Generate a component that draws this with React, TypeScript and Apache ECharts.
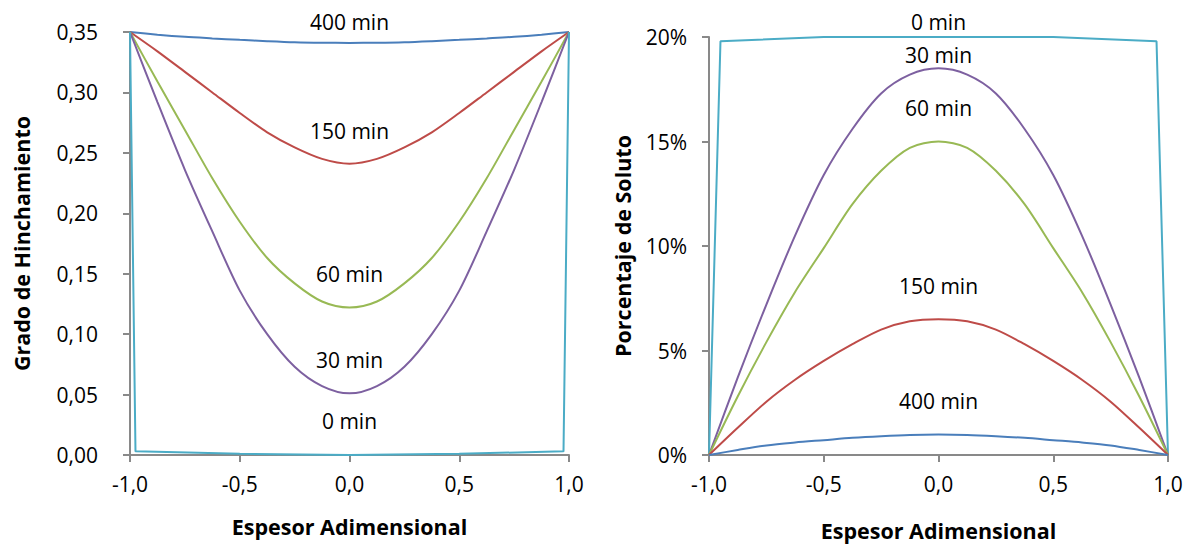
import React, { useEffect, useRef } from "react";
import * as echarts from "echarts";

// Dimensionless thickness positions (shared by the profiles)
const espesor = [
  -1, -0.875, -0.75, -0.625, -0.5, -0.375, -0.25, -0.125, 0,
  0.125, 0.25, 0.375, 0.5, 0.625, 0.75, 0.875, 1,
];

// Swelling degree profiles
const hinch400 = [
  0.35, 0.3478, 0.346, 0.3447, 0.3435, 0.3424, 0.3415, 0.3411, 0.341,
  0.3411, 0.3415, 0.3424, 0.3435, 0.3447, 0.346, 0.3478, 0.35,
];
const hinch150 = [
  0.35, 0.334, 0.317, 0.3, 0.283, 0.267, 0.2545, 0.245, 0.241,
  0.245, 0.2545, 0.267, 0.283, 0.3, 0.317, 0.334, 0.35,
];
const hinch60 = [
  0.35, 0.309, 0.269, 0.229, 0.193, 0.163, 0.142, 0.127, 0.122,
  0.127, 0.142, 0.163, 0.193, 0.229, 0.269, 0.309, 0.35,
];
const hinch30 = [
  0.35, 0.292, 0.236, 0.185, 0.136, 0.1, 0.073, 0.057, 0.051,
  0.057, 0.073, 0.1, 0.136, 0.185, 0.236, 0.292, 0.35,
];
const espesorHinch0 = [-1, -0.975, -0.5, 0, 0.5, 0.975, 1];
const hinch0 = [0.35, 0.003, 0.001, 0, 0.001, 0.003, 0.35];

// Solute percentage profiles (%)
const soluto30 = [
  0, 3.7, 7.2, 10.5, 13.4, 15.6, 17.3, 18.2, 18.5,
  18.2, 17.3, 15.6, 13.4, 10.5, 7.2, 3.7, 0,
];
const soluto60 = [
  0, 2.8, 5.4, 7.8, 9.9, 12.0, 13.6, 14.7, 15.0,
  14.7, 13.6, 12.0, 9.9, 7.8, 5.4, 2.8, 0,
];
const soluto150 = [
  0, 1.3, 2.55, 3.6, 4.5, 5.3, 6.0, 6.4, 6.5,
  6.4, 6.0, 5.3, 4.5, 3.6, 2.55, 1.3, 0,
];
const soluto400 = [
  0, 0.24, 0.46, 0.6, 0.71, 0.82, 0.9, 0.96, 0.98,
  0.96, 0.9, 0.82, 0.71, 0.6, 0.46, 0.24, 0,
];
const espesorSoluto0 = [-1, -0.95, -0.5, 0, 0.5, 0.95, 1];
const soluto0 = [0, 19.8, 20, 20, 20, 19.8, 0];

// Curve labels: [x, y, text]
const hinchLabels: [number, number, string][] = [
  [0, 0.358, "400 min"],
  [0, 0.268, "150 min"],
  [0, 0.15, "60 min"],
  [0, 0.0786, "30 min"],
  [0, 0.028, "0 min"],
];
const solutoLabels: [number, number, string][] = [
  [0, 20.72, "0 min"],
  [0, 19.14, "30 min"],
  [0, 16.61, "60 min"],
  [0, 8.07, "150 min"],
  [0, 2.58, "400 min"],
];

const COLORS = {
  m0: "#4BACC6",
  m30: "#7D60A0",
  m60: "#98B954",
  m150: "#BE4B48",
  m400: "#4A7EBB",
};

const FONT = "'Open Sans', 'Noto Sans', sans-serif";
const AXIS_GRAY = "#898989";
const LABEL_SIZE = 21;
const TITLE_SIZE = 21.5;

const pairs = (xs: number[], ys: number[]) => xs.map((x, i) => [x, ys[i]]);

function lineSeries(name: string, color: string, data: number[][], idx: number, smooth: boolean) {
  return {
    name,
    type: "line",
    xAxisIndex: idx,
    yAxisIndex: idx,
    data,
    smooth: smooth ? 0.3 : false,
    showSymbol: false,
    symbol: "none",
    lineStyle: { color, width: 2 },
    itemStyle: { color },
    z: 3,
  };
}

function xAxisCfg(gridIndex: number, nameGap: number) {
  return {
    type: "value",
    gridIndex,
    min: -1,
    max: 1,
    interval: 0.5,
    name: "Espesor Adimensional",
    nameLocation: "middle",
    nameGap,
    nameTextStyle: { fontFamily: FONT, fontWeight: "bold", fontSize: TITLE_SIZE, color: "#000" },
    axisLine: { show: true, onZero: false, lineStyle: { color: AXIS_GRAY, width: 2 } },
    axisTick: { show: true, inside: false, length: 7, lineStyle: { color: AXIS_GRAY, width: 2 } },
    axisLabel: {
      fontFamily: FONT,
      fontSize: LABEL_SIZE,
      color: "#000",
      margin: 18,
      formatter: (v: number) => v.toFixed(1).replace(".", ","),
    },
    splitLine: { show: false },
  };
}

function yAxisCfg(
  gridIndex: number,
  max: number,
  interval: number,
  name: string,
  nameGap: number,
  margin: number,
  formatter: (v: number) => string
) {
  return {
    type: "value",
    gridIndex,
    min: 0,
    max,
    interval,
    name,
    nameLocation: "middle",
    nameGap,
    nameTextStyle: { fontFamily: FONT, fontWeight: "bold", fontSize: TITLE_SIZE, color: "#000" },
    axisLine: { show: true, onZero: false, lineStyle: { color: AXIS_GRAY, width: 2 } },
    axisTick: { show: true, length: 7, lineStyle: { color: AXIS_GRAY, width: 2 } },
    axisLabel: { fontFamily: FONT, fontSize: LABEL_SIZE, color: "#000", margin, formatter },
    splitLine: { show: false },
  };
}

export default function App() {
  const ref = useRef<HTMLDivElement>(null);

  useEffect(() => {
    if (!ref.current) return;
    const chart = echarts.init(ref.current, undefined, { renderer: "svg" });

    chart.setOption({
      animation: false,
      backgroundColor: "#fff",
      grid: [
        { left: 130, top: 32, width: 439, height: 423 },
        { left: 709, top: 37, width: 459, height: 419 },
      ],
      xAxis: [xAxisCfg(0, 60), xAxisCfg(1, 64)],
      yAxis: [
        yAxisCfg(0, 0.35, 0.05, "Grado de Hinchamiento", 98, 32, (v) => v.toFixed(2).replace(".", ",")),
        yAxisCfg(1, 20, 5, "Porcentaje de Soluto", 76, 22, (v) => `${v}%`),
      ],
      series: [
        lineSeries("400 min", COLORS.m400, pairs(espesor, hinch400), 0, true),
        lineSeries("150 min", COLORS.m150, pairs(espesor, hinch150), 0, true),
        lineSeries("60 min", COLORS.m60, pairs(espesor, hinch60), 0, true),
        lineSeries("30 min", COLORS.m30, pairs(espesor, hinch30), 0, true),
        lineSeries("0 min", COLORS.m0, pairs(espesorHinch0, hinch0), 0, false),
        lineSeries("0 min", COLORS.m0, pairs(espesorSoluto0, soluto0), 1, false),
        lineSeries("30 min", COLORS.m30, pairs(espesor, soluto30), 1, true),
        lineSeries("60 min", COLORS.m60, pairs(espesor, soluto60), 1, true),
        lineSeries("150 min", COLORS.m150, pairs(espesor, soluto150), 1, true),
        lineSeries("400 min", COLORS.m400, pairs(espesor, soluto400), 1, true),
      ],
    });

    // Curve labels anchored at data coordinates
    const makeLabels = (labels: [number, number, string][], gridIndex: number) =>
      labels.map(([x, y, text]) => {
        const p = chart.convertToPixel({ gridIndex }, [x, y]) as number[];
        return {
          type: "text",
          x: p[0],
          y: p[1],
          z: 10,
          style: {
            text,
            fontFamily: FONT,
            fontSize: LABEL_SIZE,
            fill: "#000",
            align: "center",
            verticalAlign: "middle",
          },
        };
      });

    chart.setOption({
      graphic: [...makeLabels(hinchLabels, 0), ...makeLabels(solutoLabels, 1)],
    });

    return () => chart.dispose();
  }, []);

  return (
    <div
      ref={ref}
      style={{ position: "fixed", left: 0, top: 0, width: 1196, height: 546, background: "#fff" }}
    />
  );
}
